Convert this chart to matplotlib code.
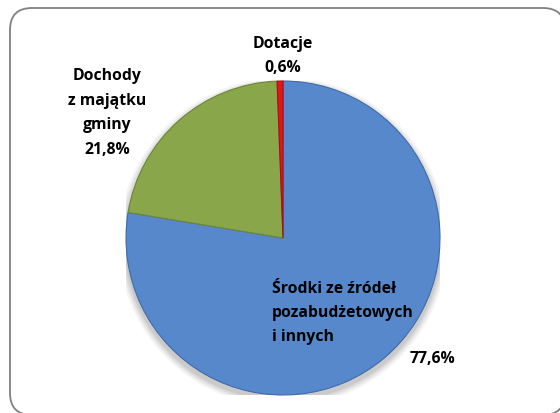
import matplotlib
matplotlib.use("Agg")
import matplotlib.pyplot as plt
import matplotlib.patches as mp

plt.rcParams.update({
    "font.family": ["Open Sans", "DejaVu Sans"],
    "figure.facecolor": "white", "savefig.facecolor": "white",
})

# ── Data ─────────────────────────────────────────────────────
categories = ["Środki ze źródeł\npozabudżetowych\ni innych",
              "Dochody\nz majątku\ngminy",
              "Dotacje"]
shares = [77.6, 21.8, 0.6]
colors = ["#5688CB", "#89A64B", "#E3161C"]
edges = ["#3E6BA8", "#6C8636", "#A80E12"]

W, H = 560, 414
fig = plt.figure(figsize=(W / 100, H / 100), dpi=100)

def px(x, y):
    return x / W, 1 - y / H

# ── Rounded frame in pixel units (cut by right/bottom edge) ──
bg = fig.add_axes([0, 0, 1, 1], zorder=-1)
bg.set_xlim(0, W); bg.set_ylim(H, 0); bg.axis("off")
bg.add_patch(mp.FancyBboxPatch((10, 9), 555, 407,
                               boxstyle="round,pad=0,rounding_size=22",
                               facecolor="white", edgecolor="#808080",
                               linewidth=1.3))

# ── Pie ─────────────────────────────────────────────────────
CX, CY, R = 283, 239, 157
ax = fig.add_axes([(CX - R) / W, (H - CY - R) / H, 2 * R / W, 2 * R / H])
ax.patch.set_alpha(0)

# soft shadow under the pie
for k, a in enumerate([0.04, 0.05, 0.06, 0.07]):
    ax.add_patch(mp.Circle((0.0, -0.025), 1.0 + 0.012 * (4 - k),
                           facecolor="black", alpha=a, lw=0, zorder=0))

wedges, _ = ax.pie(shares, colors=colors, startangle=90, counterclock=False,
                   radius=1.0, wedgeprops=dict(linewidth=0.8))
for w, ec in zip(wedges, edges):
    w.set_edgecolor(ec)
    w.set_zorder(2)
ax.set_xlim(-1.0, 1.0); ax.set_ylim(-1.0, 1.0)
ax.set_aspect("equal"); ax.axis("off")

# ── Labels ──────────────────────────────────────────────────
def pct(v):
    return f"{v:.1f}%".replace(".", ",")

fs = 11.3
kw = dict(fontsize=fs, fontweight="bold", linespacing=1.7, color="black")
tx, ty = px(283, 56)
fig.text(tx, ty, f"{categories[2]}\n{pct(shares[2])}", ha="center", va="center", **kw)
tx, ty = px(107, 113)
fig.text(tx, ty, f"{categories[1]}\n{pct(shares[1])}", ha="center", va="center", **kw)
tx, ty = px(272, 313)
fig.text(tx, ty, categories[0], ha="left", va="center", **kw)
tx, ty = px(432, 359)
fig.text(tx, ty, pct(shares[0]), ha="center", va="center", **kw)

fig.savefig("out.png", dpi=100)
